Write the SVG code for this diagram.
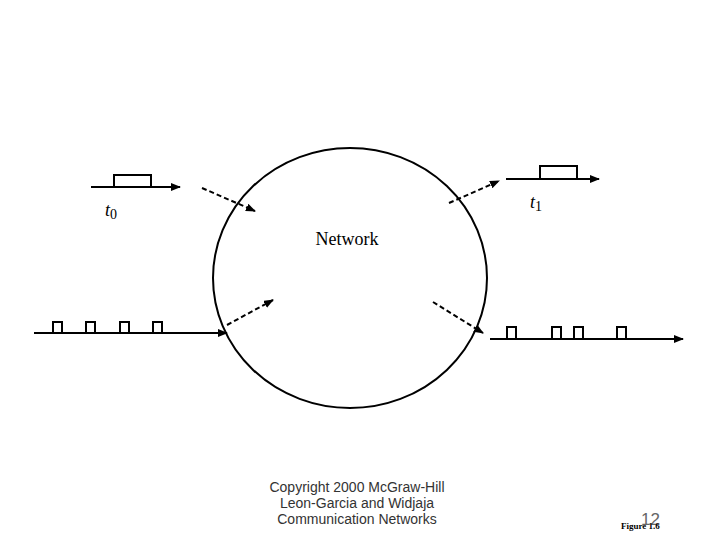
<svg xmlns="http://www.w3.org/2000/svg" width="720" height="540" viewBox="0 0 720 540">
<defs>
<marker id="ah" markerWidth="10" markerHeight="8" refX="9" refY="4" orient="auto" markerUnits="userSpaceOnUse">
<path d="M0,0 L10,4 L0,8 Z" fill="#000"/>
</marker>
<style>
.ln{stroke:#000;stroke-width:2;fill:none}
.dl{stroke:#000;stroke-width:2;fill:none;stroke-dasharray:5,3}
.bx{stroke:#000;stroke-width:2;fill:#fff}
.ser{font-family:"Liberation Serif",serif;fill:#000}
.cp{font-family:"Liberation Sans",Arial,sans-serif;font-size:14px;fill:#333;text-anchor:middle}
</style>
</defs>
<rect width="720" height="540" fill="#fff"/>
<g id="network">
<ellipse cx="350" cy="278" rx="137" ry="130" class="ln"/>
<text x="347" y="245" class="ser" font-size="18" text-anchor="middle">Network</text>
</g>
<g id="input-top">
<line x1="91" y1="187" x2="180" y2="187" class="ln" marker-end="url(#ah)"/>
<rect x="114" y="175" width="37" height="12" class="bx"/>
<text x="105" y="216" class="ser" font-size="18" font-style="italic">t<tspan font-style="normal" font-size="14" dy="3">0</tspan></text>
</g>
<g id="output-top">
<line x1="506" y1="179" x2="599" y2="179" class="ln" marker-end="url(#ah)"/>
<rect x="540" y="166" width="37" height="13" class="bx"/>
<text x="530" y="208" class="ser" font-size="18" font-style="italic">t<tspan font-style="normal" font-size="14" dy="3">1</tspan></text>
</g>
<g id="input-bottom">
<line x1="34" y1="333" x2="227" y2="333" class="ln" marker-end="url(#ah)"/>
<rect x="53" y="322" width="9" height="11" class="bx"/>
<rect x="86" y="322" width="9" height="11" class="bx"/>
<rect x="120" y="322" width="9" height="11" class="bx"/>
<rect x="153" y="322" width="9" height="11" class="bx"/>
</g>
<g id="output-bottom">
<line x1="490" y1="339" x2="683" y2="339" class="ln" marker-end="url(#ah)"/>
<rect x="507" y="327" width="9" height="12" class="bx"/>
<rect x="552" y="327" width="9" height="12" class="bx"/>
<rect x="574" y="327" width="9" height="12" class="bx"/>
<rect x="617" y="327" width="9" height="12" class="bx"/>
</g>
<g id="connectors">
<line x1="202" y1="188" x2="255" y2="211" class="dl" marker-end="url(#ah)"/>
<line x1="449" y1="203" x2="499" y2="181" class="dl" marker-end="url(#ah)"/>
<line x1="227" y1="325" x2="273" y2="300" class="dl" marker-end="url(#ah)"/>
<line x1="433" y1="302" x2="483" y2="333" class="dl" marker-end="url(#ah)"/>
</g>
<g id="footer">
<text x="641" y="525" font-family="Liberation Sans,Arial,sans-serif" font-size="17" fill="#666">12</text>
<text x="621" y="529" class="ser" font-size="9" font-weight="bold">Figure 1.6</text>
<text x="357" y="492" class="cp">Copyright 2000 McGraw-Hill</text>
<text x="357" y="508" class="cp">Leon-Garcia and Widjaja</text>
<text x="357" y="524" class="cp">Communication Networks</text>
</g>
</svg>
